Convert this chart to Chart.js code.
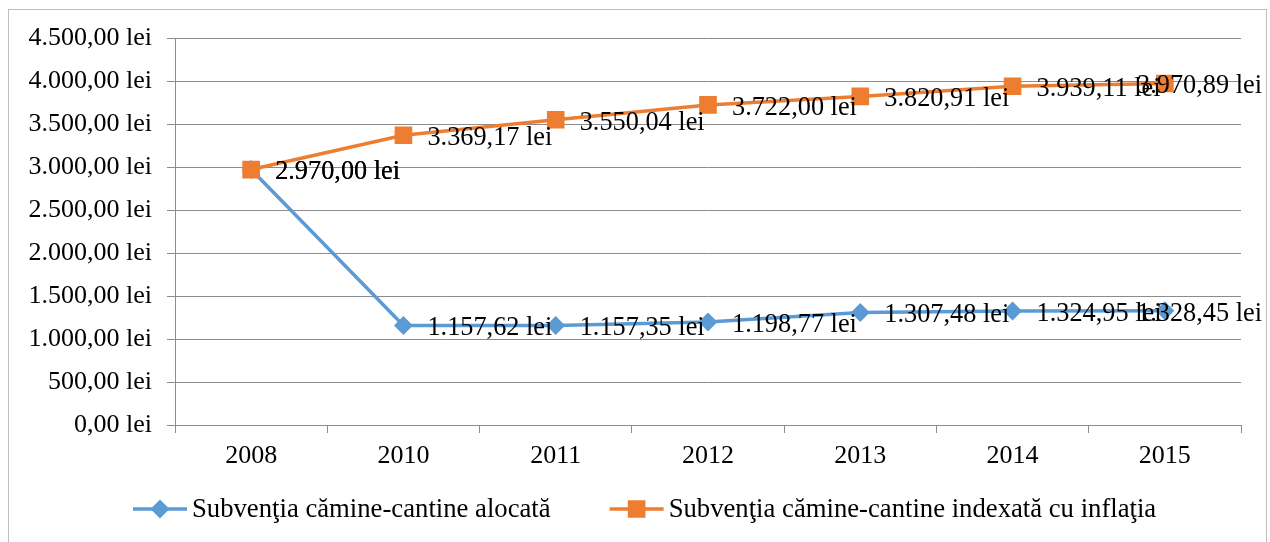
<!DOCTYPE html>
<html>
<head>
<meta charset="UTF-8">
<title>Subventia camine-cantine</title>
<script src="https://cdn.jsdelivr.net/npm/chart.js"></script>
<style>
body{
  margin:0;
  background:white;
}
#wrap{
  width:1270px;
  height:542px;
}
</style>
</head>
<body>

<div id="wrap"><canvas id="chart" width="1270" height="542"></canvas></div>

<script>
// data
const years = ["2008","2010","2011","2012","2013","2014","2015"];
const alocata = [2970.00,1157.62,1157.35,1198.77,1307.48,1324.95,1328.45];
const indexata = [2970.00,3369.17,3550.04,3722.00,3820.91,3939.11,3970.89];
const seriesNames = ["Subvenţia cămine-cantine alocată","Subvenţia cămine-cantine indexată cu inflaţia"];
const yMax = 4500, yStep = 500;

const FONT = "'Liberation Serif','Times New Roman',serif";
const BLUE = "#5b9bd5", ORANGE = "#ed7d31";

// 4500 -> "4.500,00 lei"
function lei(v){
  let p = Number(v).toFixed(2).split(".");
  p[0] = p[0].replace(/\B(?=(\d{3})+(?!\d))/g, ".");
  return p[0] + "," + p[1] + " lei";
}

// Excel-like labels right of each point
const pointLabels = {
  id:"pointLabels",
  afterDatasetsDraw(chart){
    const ctx = chart.ctx;
    ctx.save();
    ctx.font = "26.3px " + FONT;
    ctx.fillStyle = "#000";
    ctx.textAlign = "left";
    ctx.textBaseline = "middle";
    [1,0].forEach(i=>{
      const meta = chart.getDatasetMeta(i);
      meta.data.forEach((el,j)=>{
        const txt = lei(chart.data.datasets[i].data[j]);
        const w = ctx.measureText(txt).width;
        let x = Math.min(el.x + 24, 1262 - w);
        ctx.fillText(txt, x, el.y + 3);
      });
    });
    ctx.restore();
  }
};

// outer frame + legend with line and marker
const frameLegend = {
  id:"frameLegend",
  afterDraw(chart){
    const ctx = chart.ctx;
    ctx.save();
    ctx.strokeStyle = "#bfbfbf";
    ctx.lineWidth = 1;
    ctx.strokeRect(8.5, 9.5, 1258, 600);

    ctx.font = "26.7px " + FONT;
    ctx.textBaseline = "middle";
    let x = 133, y = 509;
    chart.data.datasets.forEach(ds=>{
      ctx.strokeStyle = ds.borderColor;
      ctx.lineWidth = 3.5;
      ctx.beginPath();
      ctx.moveTo(x, y);
      ctx.lineTo(x + 54, y);
      ctx.stroke();
      ctx.fillStyle = ds.borderColor;
      Chart.helpers.drawPoint(ctx, {pointStyle: ds.pointStyle, radius: ds.pointRadius, borderWidth: 1}, x + 27, y);
      ctx.fillStyle = "#000";
      ctx.fillText(ds.label, x + 59, y + 1);
      x += 59 + ctx.measureText(ds.label).width + 59;
    });
    ctx.restore();
  }
};

new Chart(document.getElementById("chart"),{
  type:"line",
  data:{
    labels:years,
    datasets:[
      {
        label:seriesNames[0], data:alocata,
        borderColor:BLUE, backgroundColor:BLUE,
        pointBorderColor:BLUE, pointBackgroundColor:BLUE,
        borderWidth:3.5, pointStyle:"rectRot", pointRadius:7,
        tension:0, order:1
      },
      {
        label:seriesNames[1], data:indexata,
        borderColor:ORANGE, backgroundColor:ORANGE,
        pointBorderColor:ORANGE, pointBackgroundColor:ORANGE,
        borderWidth:3.5, pointStyle:"rect", pointRadius:10,
        tension:0, order:0
      }
    ]
  },
  options:{
    responsive:false,
    animation:false,
    layout:{padding:{top:38,right:29,left:0,bottom:0}},
    plugins:{legend:{display:false}, tooltip:{enabled:false}},
    scales:{
      x:{
        offset:true,
        grid:{offset:true, drawOnChartArea:false, drawTicks:true, tickLength:8, color:"#8c8c8c"},
        border:{color:"#8c8c8c"},
        ticks:{color:"#000", font:{family:FONT, size:26}, padding:8, maxRotation:0},
        afterFit(s){ s.height = 117; }
      },
      y:{
        min:0, max:yMax,
        grid:{color:"#8c8c8c", tickLength:8},
        border:{color:"#8c8c8c"},
        ticks:{stepSize:yStep, color:"#000", font:{family:FONT, size:26}, padding:15,
          callback:v=>lei(v)},
        afterFit(s){ s.width = 175; }
      }
    }
  },
  plugins:[pointLabels, frameLegend]
});
</script>

</body>
</html>
